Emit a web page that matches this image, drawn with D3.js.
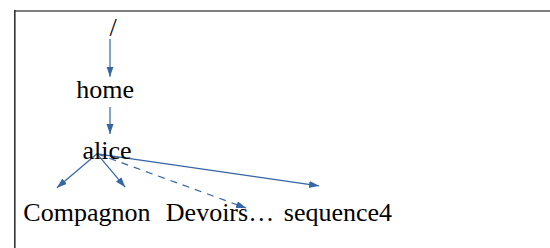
<!DOCTYPE html>
<html>
<head>
<meta charset="utf-8">
<script src="https://cdn.jsdelivr.net/npm/d3@7"></script>
<style>
  html, body { margin: 0; padding: 0; background: #fff; }
  svg { display: block; }
</style>
</head>
<body>
<svg id="chart" width="550" height="248"></svg>
<script>
// ---- data (layout units: x in 0..100 of width, y in tree depth) ----
const nodeNames = ["/", "home", "alice", "Compagnon", "Devoirs…", "sequence4"];
const nodeDepth = [0, 1, 2, 3, 3, 3];
const nodeX     = [20.55, 19.1, 19.45, 15.8, 40.0, 61.45];

const linkSource = ["/", "home", "alice", "alice", "alice", "alice"];
const linkTarget = ["home", "alice", "Compagnon", "Devoirs…", "Devoirs…", "sequence4"];
const linkDashed = [false, false, false, false, true, false];
const linkStartX = [20.0, 20.0, 17.65, 17.65, 17.65, 17.65];
const linkStartY = [0.05, 1.15, 1.91, 1.91, 1.91, 1.91];
const linkEndX   = [20.0, 20.0, 10.35, 22.75, 44.75, 58.0];
const linkEndY   = [0.66, 1.59, 2.46, 2.45, 2.79, 2.43];

const svg = d3.select("#chart");
const W = 550, H = 248;
const x = d3.scaleLinear().domain([0, 100]).range([0, W]);
const y = d3.scaleLinear().domain([0, 3]).range([36, 221]);

const blue = "#3465a4";

// frame
svg.append("rect").attr("x", 14).attr("y", 10).attr("width", W - 14).attr("height", 2).attr("fill", "#808080");
svg.append("rect").attr("x", 14).attr("y", 10).attr("width", 1.6).attr("height", H - 10).attr("fill", "#333");

// arrow marker
svg.append("defs").append("marker")
  .attr("id", "arrow")
  .attr("markerUnits", "userSpaceOnUse")
  .attr("markerWidth", 11).attr("markerHeight", 8)
  .attr("refX", 10).attr("refY", 3.5)
  .attr("orient", "auto")
  .append("path").attr("d", "M0,0 L10,3.5 L0,7 Z").attr("fill", blue);

// links
const links = linkSource.map((s, i) => ({
  source: s, target: linkTarget[i], dashed: linkDashed[i],
  x1: linkStartX[i], y1: linkStartY[i], x2: linkEndX[i], y2: linkEndY[i]
}));

svg.append("g").selectAll("line").data(links).join("line")
  .attr("x1", d => x(d.x1)).attr("y1", d => y(d.y1))
  .attr("x2", d => x(d.x2)).attr("y2", d => y(d.y2))
  .attr("stroke", blue).attr("stroke-width", 1.2)
  .attr("stroke-dasharray", d => d.dashed ? "7,6" : null)
  .attr("marker-end", "url(#arrow)");

// node labels
const nodes = nodeNames.map((n, i) => ({ name: n, depth: nodeDepth[i], x: nodeX[i] }));
svg.append("g").selectAll("text").data(nodes).join("text")
  .attr("x", d => x(d.x)).attr("y", d => y(d.depth))
  .attr("text-anchor", "middle")
  .attr("font-family", "'Liberation Serif', 'Times New Roman', serif")
  .attr("font-size", 26)
  .attr("fill", "#000")
  .text(d => d.name);
</script>
</body>
</html>
